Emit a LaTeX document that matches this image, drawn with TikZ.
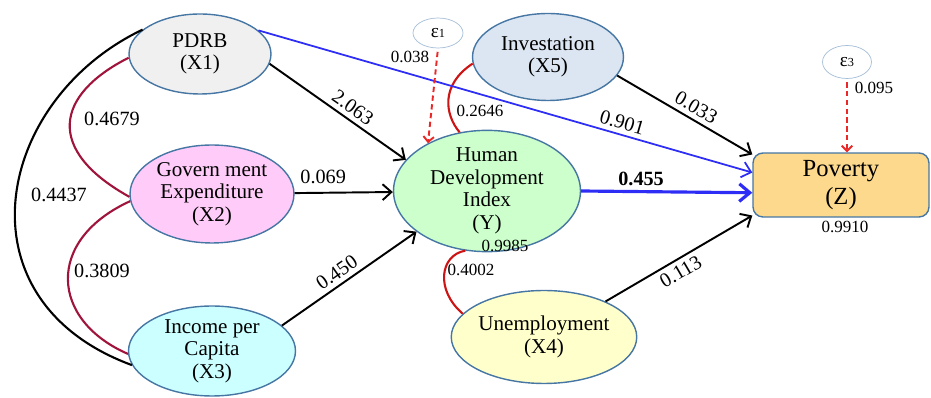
\documentclass[tikz,border=0pt]{standalone}
\usepackage{fontspec}
\setmainfont{Liberation Serif}
\usetikzlibrary{positioning,shapes.geometric,arrows.meta}
\definecolor{borderColor}{RGB}{70,118,163}
\definecolor{epsBorderColor}{RGB}{165,190,215}
\definecolor{pdrbColor}{RGB}{240,240,240}
\definecolor{govColor}{RGB}{255,204,250}
\definecolor{incomeColor}{RGB}{204,255,255}
\definecolor{hdiColor}{RGB}{204,255,204}
\definecolor{investColor}{RGB}{220,230,242}
\definecolor{unempColor}{RGB}{255,255,204}
\definecolor{povertyColor}{RGB}{252,217,140}
\definecolor{corrDarkColor}{RGB}{160,20,60}
\definecolor{corrRedColor}{RGB}{205,20,20}
\definecolor{errorColor}{RGB}{235,40,40}
\definecolor{pathBlue}{RGB}{45,45,245}
\tikzstyle{pathModel} = [x = .02cm, y = -.02cm]
\tikzstyle{varEllipse} = [ellipse, draw=borderColor, thick, inner sep=0pt, align=center, font=\fontsize{12}{12.8}\selectfont]
\tikzstyle{varBox} = [rectangle, draw=borderColor, thick, rounded corners=.2cm, inner sep=0pt, align=center, font=\fontsize{14}{15.5}\selectfont]
\tikzstyle{epsEllipse} = [ellipse, draw=epsBorderColor, fill=white, inner sep=0pt, font=\fontsize{11}{11}\selectfont]
\tikzstyle{pathArrow} = [color=black, line width=1.1pt, -{Straight Barb[length=5pt,width=9pt]}]
\tikzstyle{bluePath} = [color=pathBlue, line width=1pt, -{Straight Barb[length=5pt,width=9pt]}]
\tikzstyle{bluePathThick} = [color=pathBlue, line width=1.8pt, -{Straight Barb[length=6pt,width=10pt]}]
\tikzstyle{errorArrow} = [color=errorColor, line width=1.1pt, dash pattern=on 3pt off 2pt, shorten <=2pt, -{Straight Barb[length=3pt,width=6pt]}]
\tikzstyle{corrDark} = [color=corrDarkColor, line width=1.2pt]
\tikzstyle{corrRed} = [color=corrRedColor, line width=1.2pt]
\tikzstyle{corrBlack} = [color=black, line width=1.2pt]
\tikzstyle{coefText} = [text=black, font=\fontsize{11.5}{11.5}\selectfont, inner sep=2.5pt]
\tikzstyle{smallText} = [text=black, font=\fontsize{9.7}{9.7}\selectfont, inner sep=1pt]
\newcommand{\varEllipseNode}[7]{\node [varEllipse, fill=#6, minimum width=#4cm, minimum height=#5cm] (#1) at (#2,#3) {#7};}
\newcommand{\labelAt}[5]{\node [#1] (#2) at (#3,#4) {#5};}

\begin{document}
\begin{tikzpicture}[pathModel]
  \useasboundingbox (0,0) rectangle (931,398);

  \varEllipseNode{pdrb}{200}{54}{2.84}{1.6}{pdrbColor}{PDRB\\(X1)}
  \varEllipseNode{govExp}{212}{194}{3.28}{1.96}{govColor}{Govern ment\\Expenditure\\(X2)}
  \varEllipseNode{income}{212}{351}{3.34}{1.8}{incomeColor}{Income per\\Capita\\(X3)}
  \varEllipseNode{hdi}{487}{191}{3.74}{1.9}{hdiColor}{Human\\Development\\Index\\(Y)}
  \varEllipseNode{invest}{548}{57}{3.02}{1.74}{investColor}{Investation\\(X5)}
  \varEllipseNode{unemp}{544}{337}{3.6}{1.86}{unempColor}{Unemployment\\(X4)}
  \node [varBox, fill=povertyColor, minimum width=3.52cm, minimum height=1.28cm] (poverty) at (841,185) {Poverty\\(Z)};
  \node [epsEllipse, minimum width=1cm, minimum height=.6cm] (eps1) at (438,33) {ε\fontsize{7}{7}\selectfont 1};
  \node [epsEllipse, minimum width=.98cm, minimum height=.66cm] (eps3) at (847,62) {ε\fontsize{7}{7}\selectfont 3};

  % correlations
  \draw[corrBlack] (pdrb.157) .. controls (-5,100) and (-45,300) .. (income.190);
  \draw[corrDark] (pdrb.183) .. controls (55,95) and (45,150) .. (govExp.182);
  \draw[corrDark] (govExp.185) .. controls (45,240) and (50,320) .. (income.182);
  \draw[corrRed] (invest.185) .. controls (440,85) and (445,115) .. (hdi.115);
  \draw[corrRed] (hdi.250) .. controls (440,255) and (435,290) .. (unemp.164);
  \labelAt{coefText}{rX1X2}{112}{119}{0.4679}
  \labelAt{coefText}{rX1X3}{59}{195}{0.4437}
  \labelAt{coefText}{rX2X3}{102}{271}{0.3809}
  \labelAt{smallText}{rX5Y}{480}{111}{0.2646}
  \labelAt{smallText}{rYX4}{471}{270}{0.4002}

  % paths
  \draw[pathArrow] (pdrb.-8) -- (hdi.159) node [coefText, sloped, above, pos=.56] (bX1Y) {2.063};
  \draw[pathArrow] (govExp) -- (hdi) node [coefText, above=2pt, pos=.29] (bX2Y) {0.069};
  \draw[pathArrow] (income.20) -- (hdi.210) node [coefText, sloped, above, pos=.46] (bX3Y) {0.450};
  \draw[bluePath] (pdrb.22) -- (poverty.172) node [coefText, sloped, above, pos=.73] (bX1Z) {0.901};
  \draw[bluePathThick] (hdi.0) -- (poverty.185) node [coefText, above, pos=.35, font=\fontsize{11.5}{11.5}\selectfont\bfseries] (bYZ) {0.455};
  \draw[pathArrow] (invest.-15) -- (poverty.161) node [coefText, sloped, above, pos=.54] (bX5Z) {0.033};
  \draw[pathArrow] (unemp.30) -- (poverty.199) node [coefText, sloped, below, pos=.47] (bX4Z) {0.113};

  % errors
  \draw[errorArrow] (eps1.south) -- (hdi.141);
  \draw[errorArrow] (eps3.south) -- (eps3 |- poverty.north);
  \labelAt{smallText}{e1Val}{410}{57}{0.038}
  \labelAt{smallText}{e3Val}{874}{88}{0.095}
  \labelAt{smallText}{r2Y}{505}{246}{0.9985}
  \labelAt{smallText}{r2Z}{845}{227}{0.9910}
\end{tikzpicture}
\end{document}
